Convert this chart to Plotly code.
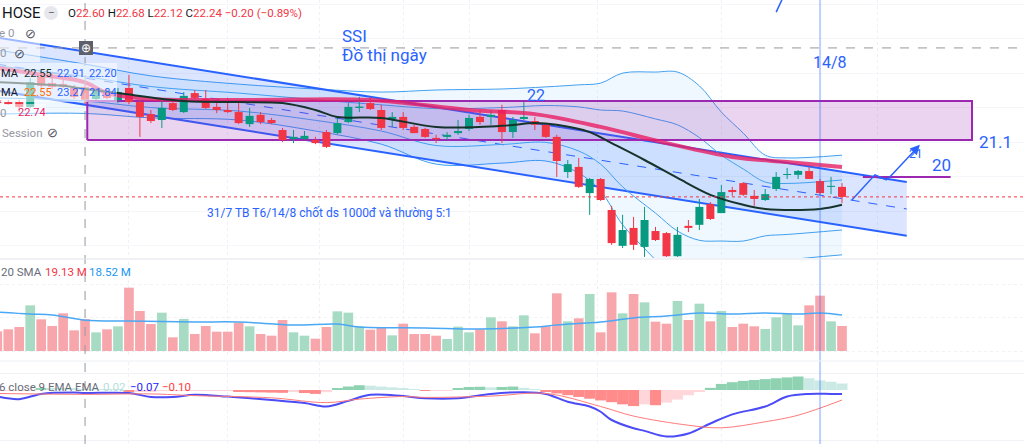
import plotly.graph_objects as go
from plotly.subplots import make_subplots

W, H = 1024, 444
GREEN, RED = "#089981", "#f23645"
BLUE = "#2962ff"
PURPLE = "#9c27b0"
BB_COLOR = "#42a0f0"

# ---- daily candles (bar index 0..77) ----
bar_idx = list(range(78))
opens = [22.23, 22.17, 22.17, 22.03, 22.90, 22.72, 22.69, 22.58, 22.60, 22.26,
         22.49, 22.23, 22.58, 22.17, 21.82, 21.65, 22.14, 21.88, 22.43, 22.26,
         22.03, 21.94, 21.88, 21.53, 21.80, 21.65, 21.36, 21.10, 21.10, 21.07,
         21.30, 21.27, 21.59, 22.00, 22.14, 21.94, 21.68, 21.74, 21.45, 21.39,
         21.13, 21.16, 21.27, 21.39, 21.74, 21.74, 21.94, 21.30, 21.68, 21.62,
         21.51, 21.16, 20.14, 20.29, 19.53, 19.94, 19.04, 18.00, 18.52, 17.97,
         18.43, 18.37, 17.70, 18.58, 18.61, 19.21, 18.95, 19.62, 19.82, 19.45,
         19.33, 19.65, 20.06, 20.06, 20.17, 19.88, 19.71, 19.71]
highs = [22.29, 22.23, 22.23, 22.87, 23.01, 23.04, 22.81, 22.67, 22.68, 22.58,
         22.55, 22.58, 22.96, 22.23, 21.94, 22.23, 22.23, 22.46, 22.52, 22.52,
         22.14, 22.29, 22.14, 22.00, 21.88, 21.71, 21.42, 21.36, 21.33, 21.16,
         21.36, 21.71, 22.14, 22.32, 22.32, 22.09, 21.88, 21.88, 21.51, 21.42,
         21.22, 21.30, 21.65, 21.80, 21.94, 21.94, 22.09, 21.74, 22.17, 21.74,
         21.56, 21.22, 20.49, 20.55, 19.97, 19.97, 19.16, 18.90, 18.84, 19.13,
         18.55, 18.40, 18.55, 18.75, 19.36, 19.27, 19.77, 19.71, 19.85, 19.62,
         19.65, 20.14, 20.26, 20.20, 20.29, 19.94, 20.00, 19.82]
lows = [22.09, 22.09, 21.88, 22.00, 22.58, 22.55, 22.58, 22.26, 22.12, 22.23,
        22.26, 22.14, 22.11, 21.16, 21.56, 21.42, 21.91, 21.85, 22.26, 21.97,
        21.85, 21.85, 21.53, 21.45, 21.53, 21.53, 21.01, 20.98, 21.07, 20.95,
        20.84, 21.24, 21.56, 21.88, 21.94, 21.36, 21.45, 21.36, 21.27, 21.13,
        20.98, 21.07, 21.22, 21.33, 21.51, 21.51, 20.98, 21.13, 21.65, 21.36,
        21.13, 20.00, 19.97, 19.68, 18.90, 19.30, 18.03, 17.94, 17.88, 17.68,
        18.14, 17.68, 17.68, 18.40, 18.46, 18.75, 18.95, 19.45, 19.45, 19.16,
        19.30, 19.59, 19.94, 19.94, 19.94, 19.48, 19.50, 19.24]
closes = [22.14, 22.11, 22.03, 22.75, 22.64, 22.61, 22.61, 22.32, 22.24, 22.52,
          22.29, 22.46, 22.17, 21.74, 21.62, 22.00, 21.94, 22.35, 22.29, 22.00,
          21.94, 21.88, 21.56, 21.77, 21.59, 21.56, 21.07, 21.16, 21.19, 20.98,
          20.87, 21.56, 22.03, 22.04, 21.97, 21.42, 21.74, 21.42, 21.27, 21.16,
          21.09, 21.22, 21.33, 21.71, 21.59, 21.80, 21.30, 21.65, 21.74, 21.51,
          21.16, 20.46, 20.37, 19.71, 19.94, 19.33, 18.08, 18.46, 18.03, 18.75,
          18.17, 17.70, 18.32, 18.52, 19.13, 18.78, 19.56, 19.56, 19.48, 19.36,
          19.50, 20.00, 20.08, 20.17, 19.94, 19.53, 19.74, 19.42]

# volume, millions
volume_m = [11.8, 13.0, 14.4, 27.4, 19.0, 15.0, 22.6, 12.4, 19.13, 11.2,
            13.0, 14.8, 38.0, 24.0, 16.2, 23.0, 8.2, 19.2, 10.2, 15.0,
            11.6, 11.6, 17.0, 14.8, 10.2, 9.2, 18.6, 11.2, 9.2, 7.4,
            14.4, 23.8, 23.0, 14.8, 12.8, 14.0, 9.4, 16.4, 10.2, 10.2,
            9.2, 7.2, 14.6, 11.2, 13.0, 20.2, 17.8, 14.8, 21.4, 10.6,
            14.8, 34.6, 17.8, 19.6, 34.2, 11.2, 35.2, 22.6, 34.2, 29.2,
            17.6, 16.4, 30.0, 18.6, 28.4, 17.8, 24.0, 14.4, 16.4, 14.8,
            13.2, 20.2, 22.4, 15.4, 27.4, 33.2, 17.8, 15.0]
vsma_idx = [0, 3, 5, 8, 12, 18, 22, 27, 31, 33, 39, 44, 49, 51, 55, 58, 61, 64, 67, 70, 73, 75, 77]
vsma = [23.4, 22.2, 21.6, 18.52, 18.0, 17.4, 17.4, 15.6, 16.2, 14.4, 13.8, 13.2,
        14.4, 15.6, 17.4, 19.8, 21.0, 22.8, 22.2, 22.8, 22.2, 22.8, 21.6]

# moving averages
ma_idx = [0, 6, 8, 11, 17, 22, 26, 29, 31, 35, 40, 46, 49, 51, 54, 56, 59, 62, 65, 68, 70, 75, 77]
ma_basis = [22.75, 22.64, 22.55, 22.43, 22.20, 22.17, 22.14, 21.94, 21.74, 21.71, 21.45, 21.48,
            21.56, 21.51, 21.30, 20.98, 20.49, 19.97, 19.48, 19.19, 19.07, 19.07, 19.19]
ma_long_idx = [0, 4, 8, 10, 14, 23, 34, 43, 49, 55, 61, 67, 72, 77]
ma_long = [23.16, 22.96, 22.74, 22.43, 22.26, 22.23, 22.23, 21.94, 21.82, 21.45, 20.98, 20.58, 20.43, 20.29]

bb_idx = [0, 8, 14, 22, 29, 35, 40, 46, 50, 53, 55, 57, 60, 62, 64, 66, 68, 70, 72, 77]
bb_outer_up = [23.68, 23.27, 22.93, 22.69, 22.55, 22.46, 22.52, 22.55, 22.61, 22.67,
               22.72, 23.01, 23.04, 23.04, 22.64, 21.88, 21.27, 20.63, 20.55, 20.63]
bb_inner_up = [23.22, 22.91, 22.62, 22.43, 22.24, 22.09, 21.98, 22.01, 22.07, 22.03,
               21.94, 21.91, 21.68, 21.51, 21.14, 20.63, 20.23, 19.85, 19.81, 19.91]
bb_inner_lo = [22.29, 22.20, 22.01, 21.91, 21.64, 21.33, 20.91, 20.94, 21.00, 20.75,
               20.37, 19.71, 18.95, 18.43, 18.16, 18.14, 18.14, 18.29, 18.33, 18.46]
bb_outer_lo = [21.82, 21.84, 21.71, 21.65, 21.33, 20.95, 20.37, 20.40, 20.46, 20.11,
               19.59, 18.61, 17.59, 16.89, 16.66, 16.89, 17.10, 17.50, 17.59, 17.74]

# MACD
hist = [-0.02, -0.015, -0.01, -0.005, 0.035, 0.03, 0.028, 0.025, 0.02, 0.018,
        0.015, 0.01, -0.03, -0.028, -0.025, -0.022, -0.02, -0.018, -0.017, -0.016,
        -0.015, -0.014, -0.04, -0.05, -0.055, -0.06, -0.065, -0.04, -0.07, -0.09,
        -0.05, 0.04, 0.08, 0.11, 0.10, 0.08, 0.06, 0.03, 0.01, -0.005,
        -0.004, -0.003, 0.04, 0.07, 0.075, 0.06, 0.07, 0.08, 0.05, 0.01,
        -0.03, -0.08, -0.12, -0.16, -0.20, -0.24, -0.28, -0.33, -0.37, -0.33,
        -0.35, -0.29, -0.22, -0.12, -0.03, 0.05, 0.14, 0.18, 0.21, 0.23,
        0.25, 0.27, 0.29, 0.31, 0.27, 0.22, 0.19, 0.15]
macd_idx = [0, 2, 4, 7, 8, 12, 14, 16, 18, 21, 25, 28, 30, 32, 34, 37, 39, 42, 45, 48, 50,
            52, 54, 55, 56, 58, 59, 61, 63, 65, 67, 70, 72, 74, 76, 77]
macd = [-0.15, -0.21, -0.09, -0.06, -0.07, -0.07, -0.16, -0.16, -0.11, -0.15, -0.23, -0.30,
        -0.38, -0.25, -0.11, -0.14, -0.19, -0.19, -0.09, -0.05, -0.09, -0.27, -0.38, -0.50,
        -0.69, -0.88, -0.94, -1.07, -1.00, -0.77, -0.56, -0.38, -0.15, -0.09, -0.09, -0.09]
sig_idx = [0, 8, 14, 18, 25, 30, 33, 37, 39, 45, 50, 55, 58, 63, 66, 70, 73, 77]
signal = [-0.08, -0.10, -0.09, -0.13, -0.18, -0.29, -0.21, -0.15, -0.17, -0.14, -0.08,
          -0.38, -0.60, -0.81, -0.87, -0.73, -0.58, -0.23]

# drawings
chan_x = [0, 82.9]
chan_upper = [24.04, 19.85]
chan_lower = [22.50, 18.29]
chan_mid = [23.27, 19.07]
zone_x = [8.2, 88.85]
zone_y = [21.07, 22.20]
level20_x = [78.9, 86.9]
level20_y = 20.0
arrow_x = [77.9, 80.0, 81.1, 84.1]
arrow_y = [19.33, 20.06, 19.91, 20.93]
stroke_x = [71.0, 71.6]
stroke_y = [24.78, 25.19]
last_close = 19.42
event_idx = 75
cross_idx, cross_price = 8, 23.74
grid_idx = [12, 21, 29.4, 37, 43, 54.7, 66, 80.2]


def px(x):
    return x / W


def py(y):
    return 1 - y / H


fig = make_subplots(rows=3, cols=1, shared_xaxes=True, vertical_spacing=0)

line_kw = dict(mode="lines", hoverinfo="skip", showlegend=False)

# bollinger bands
fig.add_trace(go.Scatter(x=bb_idx, y=bb_outer_up, line=dict(color=BB_COLOR, width=1, shape="spline"), **line_kw), 1, 1)
fig.add_trace(go.Scatter(x=bb_idx, y=bb_outer_lo, fill="tonexty", fillcolor="rgba(33,150,243,0.07)",
                         line=dict(color=BB_COLOR, width=1, shape="spline"), **line_kw), 1, 1)
# regression channel
fig.add_trace(go.Scatter(x=chan_x, y=chan_upper, line=dict(color=BLUE, width=2), **line_kw), 1, 1)
fig.add_trace(go.Scatter(x=chan_x, y=chan_lower, fill="tonexty", fillcolor="rgba(41,98,255,0.17)",
                         line=dict(color=BLUE, width=2), **line_kw), 1, 1)
fig.add_trace(go.Scatter(x=chan_x, y=chan_mid, line=dict(color=BLUE, width=1, dash="dash"), **line_kw), 1, 1)
fig.add_trace(go.Scatter(x=bb_idx, y=bb_inner_up, line=dict(color=BB_COLOR, width=1, shape="spline"), **line_kw), 1, 1)
fig.add_trace(go.Scatter(x=bb_idx, y=bb_inner_lo, line=dict(color=BB_COLOR, width=1, shape="spline"), **line_kw), 1, 1)

# zone rectangle
fig.add_trace(go.Scatter(x=[zone_x[0], zone_x[1], zone_x[1], zone_x[0], zone_x[0]],
                         y=[zone_y[0], zone_y[0], zone_y[1], zone_y[1], zone_y[0]],
                         fill="toself", fillcolor="rgba(156,39,176,0.2)",
                         line=dict(color=PURPLE, width=2), **line_kw), 1, 1)

# candles drawn as scatter segments so they sit above the filled drawings
for up, col in ((True, GREEN), (False, RED)):
    wx, wy, bx, by = [], [], [], []
    for i, o, h, l, c in zip(bar_idx, opens, highs, lows, closes):
        if (c >= o) != up:
            continue
        lo_b, hi_b = min(o, c), max(o, c)
        if hi_b - lo_b < 0.03:
            mid = (hi_b + lo_b) / 2
            lo_b, hi_b = mid - 0.015, mid + 0.015
        wx += [i, i, None]
        wy += [l, h, None]
        bx += [i, i, None]
        by += [lo_b, hi_b, None]
    fig.add_trace(go.Scatter(x=wx, y=wy, line=dict(color=col, width=1), **line_kw), 1, 1)
    fig.add_trace(go.Scatter(x=bx, y=by, line=dict(color=col, width=8), **line_kw), 1, 1)

fig.add_trace(go.Scatter(x=ma_long_idx, y=ma_long, line=dict(color="rgba(233,30,99,0.8)", width=4, shape="spline"), **line_kw), 1, 1)
fig.add_trace(go.Scatter(x=ma_idx, y=ma_basis, line=dict(color="#15332a", width=2, shape="spline"), **line_kw), 1, 1)

# user drawings
fig.add_trace(go.Scatter(x=level20_x, y=[level20_y, level20_y], line=dict(color=PURPLE, width=2), **line_kw), 1, 1)
fig.add_trace(go.Scatter(x=arrow_x[:3], y=arrow_y[:3], line=dict(color=BLUE, width=1.5), **line_kw), 1, 1)
fig.add_trace(go.Scatter(x=stroke_x, y=stroke_y, line=dict(color=BLUE, width=1.5), **line_kw), 1, 1)

# volume
vol_colors = ["#a7dbc4" if c >= o else "#f7a6ac" for o, c in zip(opens, closes)]
fig.add_trace(go.Bar(x=bar_idx, y=volume_m, marker=dict(color=vol_colors, line_width=0), width=0.88,
                     hoverinfo="skip", showlegend=False), 2, 1)
fig.add_trace(go.Scatter(x=vsma_idx, y=vsma, line=dict(color="#4aa8f5", width=1.5, shape="spline"), **line_kw), 2, 1)

# macd
hist_colors = []
for i, v in enumerate(hist):
    prev = hist[i - 1] if i else v
    if v >= 0:
        hist_colors.append("#8fd2b2" if v > prev else "#cbe9e5")
    else:
        hist_colors.append("#ffd6da" if v > prev else "#ff8b8b")
fig.add_trace(go.Bar(x=bar_idx, y=hist, marker=dict(color=hist_colors, line_width=0), width=1.0,
                     hoverinfo="skip", showlegend=False), 3, 1)
fig.add_trace(go.Scatter(x=macd_idx, y=macd, line=dict(color="#4b4cf5", width=2, shape="spline"), **line_kw), 3, 1)
fig.add_trace(go.Scatter(x=sig_idx, y=signal, line=dict(color="#ff7b7b", width=1, shape="spline"), **line_kw), 3, 1)

shapes = [
    dict(type="line", xref="paper", yref="y", x0=0, x1=1, y0=last_close, y1=last_close,
         line=dict(color=RED, width=1, dash="dot")),
    dict(type="line", xref="x", yref="paper", x0=event_idx, x1=event_idx, y0=0, y1=1,
         line=dict(color="rgba(41,98,255,0.3)", width=2)),
    dict(type="line", xref="x", yref="paper", x0=cross_idx, x1=cross_idx, y0=0, y1=1,
         line=dict(color="#9598a1", width=1, dash="dash")),
    dict(type="line", xref="paper", yref="y", x0=0, x1=1, y0=cross_price, y1=cross_price,
         line=dict(color="#9598a1", width=1, dash="dash")),
    dict(type="line", xref="paper", yref="paper", x0=0, x1=1, y0=py(259), y1=py(259),
         line=dict(color="#e0e3eb", width=1)),
    dict(type="line", xref="paper", yref="paper", x0=0, x1=1, y0=py(361), y1=py(361),
         line=dict(color="#eef0f4", width=1)),
    # legend backgrounds
    dict(type="rect", xref="paper", yref="paper", x0=px(0), x1=px(117), y0=py(102), y1=py(63),
         fillcolor="rgba(255,255,255,0.55)", line_width=0, layer="above"),
    dict(type="rect", xref="paper", yref="paper", x0=px(0), x1=px(46), y0=py(122), y1=py(104),
         fillcolor="rgba(255,255,255,0.55)", line_width=0, layer="above"),
    dict(type="rect", xref="paper", yref="paper", x0=px(0), x1=px(40), y0=py(62), y1=py(24),
         fillcolor="rgba(255,255,255,0.55)", line_width=0, layer="above"),
    dict(type="circle", xref="paper", yref="paper", x0=px(44), x1=px(58), y0=py(20), y1=py(6),
         fillcolor="#e6e8ee", line_width=0, layer="above"),
    dict(type="rect", xref="paper", yref="paper", x0=px(79), x1=px(93), y0=py(55), y1=py(41),
         fillcolor="#5d606b", line_width=0, layer="above"),
]

ann = []


def txt(x, y, s, size=12, color="#131722", anchor="left", xref="paper", yref="paper", **kw):
    ann.append(dict(x=x, y=y, xref=xref, yref=yref, text=s, showarrow=False, xanchor=anchor,
                    yanchor="middle", font=dict(size=size, color=color, family="Roboto"), **kw))


# chart texts (drawn on data coordinates)
txt(31.2, 24.09, "SSI", 17, BLUE, xref="x", yref="y")
txt(31.2, 23.54, "Đồ thị ngày", 17, BLUE, xref="x", yref="y")
txt(49.1, 22.37, "22", 16, BLUE, "center", xref="x", yref="y")
txt(89.3, 21.01, "21.1", 17, BLUE, xref="x", yref="y")
txt(86.1, 20.35, "20", 17, BLUE, "center", xref="x", yref="y")
txt(75.9, 23.33, "14/8", 16, BLUE, "center", xref="x", yref="y")
txt(83.7, 20.66, "21", 12, BLUE, "center", xref="x", yref="y")
txt(30.3, 18.95, "31/7 TB T6/14/8 chốt ds 1000đ và thường 5:1", 12, BLUE, "center", xref="x", yref="y")
ann.append(dict(x=arrow_x[3], y=arrow_y[3], ax=arrow_x[2], ay=arrow_y[2], xref="x", yref="y",
                axref="x", ayref="y", showarrow=True, arrowhead=2, arrowsize=1.3, arrowwidth=1.5,
                arrowcolor=BLUE, text=""))

# legend rows
R = "#f23645"
G = "#131722"
txt(px(0), py(13), "HOSE", 15, G)
txt(px(51), py(13), "−", 12, "#6a6d78", "center")
txt(px(66), py(13),
    f"O<span style='color:{R}'>22.60</span> H<span style='color:{R}'>22.68</span> "
    f"L<span style='color:{R}'>22.12</span> C<span style='color:{R}'>22.24</span> "
    f"<span style='color:{R}'>−0.20 (−0.89%)</span>", 11.5, G)
txt(px(-3), py(33), "e 0", 11.5, "#9598a1")
txt(px(30), py(33), "⊘", 13, "#50535e", "center")
txt(px(-2), py(53), "0", 11.5, "#9598a1")
txt(px(19), py(53), "⊘", 13, "#50535e", "center")
txt(px(-1), py(73), "MA", 11, G)
txt(px(22), py(73), "22.55", 11, "#15332a")
txt(px(55), py(73), "22.91", 11, BLUE)
txt(px(87), py(73), "22.20", 11, BLUE)
txt(px(-1), py(92), "MA", 11, G)
txt(px(22), py(92), "22.55", 11, "#ff6d00")
txt(px(55), py(92), "23.27", 11, BLUE)
txt(px(87), py(92), "21.84", 11, BLUE)
txt(px(-2), py(113), "0", 11.5, "#9598a1")
txt(px(16), py(113), "22.74", 11, "#e91e63")
txt(px(0), py(133), "Session", 11.5, "#9598a1")
txt(px(52), py(133), "⊘", 13, "#50535e", "center")
txt(px(-1), py(272), "20 SMA", 11.5, "#6a6d78")
txt(px(43), py(272), "19.13 M", 11.5, "#f23645")
txt(px(87), py(272), "18.52 M", 11.5, "#2196f3")
txt(px(-3), py(387), "6 close 9 EMA EMA", 11.5, "#6a6d78")
txt(px(101), py(387), "0.02", 11.5, "#b2dfdb")
txt(px(128), py(387), "−0.07", 11.5, "#2424ff")
txt(px(160), py(387), "−0.10", 11.5, "#ff3b3b")
txt(px(86), py(48), "⊕", 12, "white", "center")

fig.update_layout(
    width=W, height=H, margin=dict(l=0, r=0, t=0, b=0),
    paper_bgcolor="white", plot_bgcolor="white",
    font=dict(family="Roboto"), showlegend=False,
    shapes=shapes, annotations=ann, hovermode=False,
    yaxis=dict(domain=[py(258), 1], range=[17.648, 25.13]),
    yaxis2=dict(domain=[py(358), py(262)], range=[-4.2, 53.4], tickvals=[0, 20, 40], griddash="dot"),
    yaxis3=dict(domain=[0, py(362)], range=[-1.242, 0.644], tickvals=[-1.17, 0.39]),
)
fig.update_xaxes(range=[0.246, 93.59], showticklabels=False, ticks="", tickvals=grid_idx,
                 showgrid=True, gridcolor="#eef0f5", griddash="dot", zeroline=False,
                 showline=False)
fig.update_yaxes(showticklabels=False, ticks="", zeroline=False, showline=False,
                 showgrid=True, gridcolor="#f0f2f6")
fig.update_layout(yaxis=dict(dtick=1, gridcolor="#f5f6f9"))

fig.write_html("out.html", config={"displayModeBar": False},
               post_script="document.body.style.margin='0';")
